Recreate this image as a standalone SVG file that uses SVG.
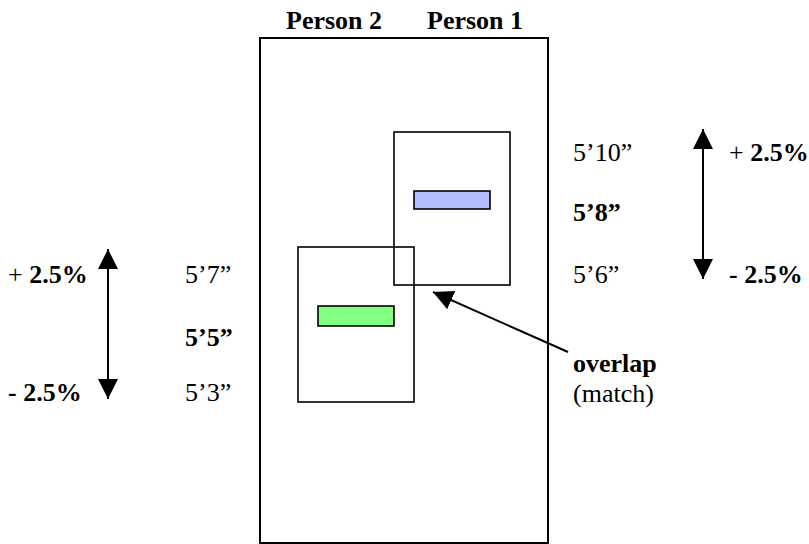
<svg xmlns="http://www.w3.org/2000/svg" width="809" height="544" viewBox="0 0 809 544">
  <style>
    text { font-family: "Liberation Serif", "Times New Roman", serif; font-size: 26px; fill: #000; }
    .b { font-weight: bold; }
    .box { fill: none; stroke: #000; stroke-width: 1.6; }
    .bar { stroke: #000; stroke-width: 1.6; }
    .ln { stroke: #000; stroke-width: 2; fill: none; }
  </style>
  <defs>
    <marker id="ah" markerUnits="userSpaceOnUse" viewBox="0 0 20 20" refX="20" refY="10" markerWidth="20" markerHeight="20" orient="auto-start-reverse">
      <path d="M0,0 L20,10 L0,20 Z" fill="#000"/>
    </marker>
  </defs>
  <rect width="809" height="544" fill="#fff"/>

  <g id="outer">
    <rect class="box" x="260" y="38" width="288" height="505" style="stroke-width:2"/>
    <text class="b" x="286" y="29">Person 2</text>
    <text class="b" x="427" y="29">Person 1</text>
  </g>

  <g id="person1">
    <rect class="box" x="394" y="132" width="116" height="153"/>
    <rect class="bar" x="414" y="191" width="76" height="18" fill="#B4BEFF"/>
  </g>

  <g id="person2">
    <rect class="box" x="298" y="247" width="116" height="155"/>
    <rect class="bar" x="318" y="306" width="76" height="20" fill="#80FF80"/>
  </g>

  <g id="labels-right">
    <text x="573" y="161">5’10”</text>
    <text class="b" x="573" y="221">5’8”</text>
    <text x="573" y="283">5’6”</text>
    <text x="729" y="161">+ <tspan class="b">2.5%</tspan></text>
    <text class="b" x="729" y="283">- 2.5%</text>
  </g>

  <g id="labels-left">
    <text x="8" y="283">+ <tspan class="b">2.5%</tspan></text>
    <text class="b" x="8" y="401">- 2.5%</text>
    <text x="185" y="283">5’7”</text>
    <text class="b" x="185" y="346">5’5”</text>
    <text x="185" y="401">5’3”</text>
  </g>

  <g id="overlap-label">
    <text class="b" x="573" y="372">overlap</text>
    <text x="573" y="402">(match)</text>
  </g>

  <g id="connectors">
    <line class="ln" x1="703" y1="129" x2="703" y2="279" marker-start="url(#ah)" marker-end="url(#ah)"/>
    <line class="ln" x1="108" y1="249" x2="108" y2="399" marker-start="url(#ah)" marker-end="url(#ah)"/>
    <line class="ln" x1="568" y1="352" x2="433" y2="292" marker-end="url(#ah)"/>
  </g>
</svg>
